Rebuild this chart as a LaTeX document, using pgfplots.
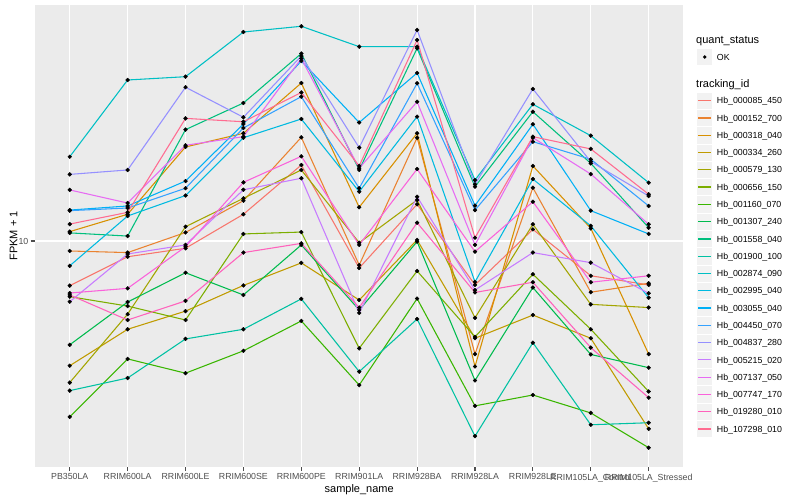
\documentclass[border=0pt]{standalone}
\usepackage{fontspec}
\setmainfont{Liberation Sans}
\usepackage{pgfplots}
\pgfplotsset{compat=1.18}
\usepackage{pgfplotstable}

% ggplot hue palette, 20 levels
\definecolor{c1}{HTML}{F8766D}
\definecolor{c2}{HTML}{EA8331}
\definecolor{c3}{HTML}{D89000}
\definecolor{c4}{HTML}{C09B00}
\definecolor{c5}{HTML}{A3A500}
\definecolor{c6}{HTML}{7CAE00}
\definecolor{c7}{HTML}{39B600}
\definecolor{c8}{HTML}{00BB4E}
\definecolor{c9}{HTML}{00BF7D}
\definecolor{c10}{HTML}{00C1A3}
\definecolor{c11}{HTML}{00BFC4}
\definecolor{c12}{HTML}{00BAE0}
\definecolor{c13}{HTML}{00B0F6}
\definecolor{c14}{HTML}{35A2FF}
\definecolor{c15}{HTML}{9590FF}
\definecolor{c16}{HTML}{C77CFF}
\definecolor{c17}{HTML}{E76BF3}
\definecolor{c18}{HTML}{FA62DB}
\definecolor{c19}{HTML}{FF62BC}
\definecolor{c20}{HTML}{FF6C91}
\definecolor{panelbg}{HTML}{EBEBEB}
\definecolor{keybg}{HTML}{F2F2F2}
\definecolor{axistext}{HTML}{4D4D4D}

% FPKM + 1 per sample (rows) and tracking id (columns s1..s20)
\pgfplotstableread{
x s1 s2 s3 s4 s5 s6 s7 s8 s9 s10 s11 s12 s13 s14 s15 s16 s17 s18 s19 s20
0 8.14 9.55 10.44 5.63 5.21 7.74 4.45 6.20 10.38 5.02 14.74 8.92 11.53 11.50 13.59 7.56 12.65 7.87 7.80 10.81
1 9.30 9.48 11.31 6.66 7.14 7.41 5.81 7.55 10.23 5.32 20.99 11.22 11.75 11.64 13.87 9.42 11.91 8.04 6.95 11.41
2 9.67 10.40 15.42 7.24 10.68 6.95 5.44 8.64 16.70 6.37 21.31 12.33 13.18 12.75 20.30 9.82 15.54 9.74 7.59 17.59
3 11.31 12.04 16.42 8.15 12.17 10.33 6.03 7.80 18.88 6.66 26.18 16.09 17.14 16.83 17.68 12.66 16.17 13.10 9.48 17.32
4 14.19 16.12 20.70 9.04 13.87 10.42 6.92 9.82 23.71 7.66 26.88 17.54 22.91 19.44 23.44 13.35 23.17 14.77 9.89 19.82
5 8.83 8.95 11.68 7.62 9.92 6.10 5.15 7.28 13.87 5.48 24.47 12.55 17.26 12.75 15.37 7.18 13.98 9.82 7.36 14.13
6 11.84 16.09 16.42 10.05 12.08 8.71 7.67 9.97 24.29 6.98 24.47 17.73 21.68 20.67 26.43 12.26 18.99 13.93 10.88 25.23
7 8.17 5.94 5.61 6.39 7.02 6.43 4.68 5.26 12.84 4.07 13.24 8.28 11.77 11.53 12.98 7.98 9.82 9.52 7.89 10.15
8 10.55 12.78 14.13 7.11 10.80 8.58 4.92 8.07 18.14 6.26 18.77 13.30 17.12 15.80 20.14 9.48 16.09 11.98 8.27 16.17
9 8.52 7.90 10.60 6.39 7.47 6.66 4.53 5.93 14.30 4.29 16.24 10.72 11.50 14.57 14.41 9.05 13.61 8.27 6.12 15.28
10 8.17 8.23 5.94 4.21 7.36 5.00 3.86 5.58 10.63 4.33 13.08 7.70 10.33 11.75 12.30 7.86 10.80 8.52 4.86 12.40
}\fpkm

\begin{document}
\begin{tikzpicture}[x=1pt,y=1pt]
\useasboundingbox (0,0) rectangle (800,500);
\begin{axis}[
    at={(35pt,33pt)}, anchor=south west,
    scale only axis, width=648.4pt, height=462pt,
    ymode=log,
    xmin=-0.6, xmax=10.6, ymin=3.532, ymax=29.65,
    xtick={0,...,10},
    xticklabels={PB350LA,RRIM600LA,RRIM600LE,RRIM600SE,RRIM600PE,RRIM901LA,RRIM928BA,RRIM928LA,RRIM928LE,RRIM105LA\_Control,RRIM105LA\_Stressed},
    ytick={10}, yticklabels={10},
    xminorticks=false, yminorticks=false,
    axis line style={draw=none},
    axis background/.style={fill=panelbg},
    grid=major, major grid style={white, line width=1.07pt},
    tick align=outside, major tick length=4.25pt,
    tick pos=left,
    tick style={color=axistext, line width=1.07pt},
    ticklabel style={font=\fontsize{8.8}{10}\selectfont, text=axistext},
    xticklabel style={inner sep=0pt, yshift=-2.2pt, anchor=north},
    yticklabel style={inner sep=0pt, xshift=-2.2pt, anchor=east},
    xlabel={sample\_name},
    xlabel style={at={(axis description cs:0.5,-0.0498)}, anchor=center, font=\fontsize{11}{13}\selectfont},
    ylabel={FPKM + 1},
    ylabel style={at={(axis description cs:-0.0332,0.5)}, anchor=center, font=\fontsize{11}{13}\selectfont},
]
\pgfplotsinvokeforeach{1,...,20}{
  \addplot[color=c#1, line width=1.07pt, mark=none] table[x=x, y=s#1]{\fpkm};
}
\pgfplotsinvokeforeach{1,...,20}{
  \addplot[only marks, mark=*, mark size=1.95pt, black] table[x=x, y=s#1]{\fpkm};
}
\end{axis}

% legend
\node[anchor=base west, inner sep=0pt, font=\fontsize{11}{13}\selectfont] at (696,456.1) {quant\_status};
\fill[keybg, draw=white, line width=0.7pt] (696.7,434.4) rectangle (712.7,451.6);
\fill[black] (704.7,443) circle (1.95);
\node[anchor=base west, inner sep=0pt, font=\fontsize{8.8}{10}\selectfont] at (716.7,439.85) {OK};
\node[anchor=base west, inner sep=0pt, font=\fontsize{11}{13}\selectfont] at (696,412.8) {tracking\_id};
\foreach \nm [count=\i] in {Hb\_000085\_450,Hb\_000152\_700,Hb\_000318\_040,Hb\_000334\_260,Hb\_000579\_130,Hb\_000656\_150,Hb\_001160\_070,Hb\_001307\_240,Hb\_001558\_040,Hb\_001900\_100,Hb\_002874\_090,Hb\_002995\_040,Hb\_003055\_040,Hb\_004450\_070,Hb\_004837\_280,Hb\_005215\_020,Hb\_007137\_050,Hb\_007747\_170,Hb\_019280\_010,Hb\_107298\_010}{
  \pgfmathsetmacro\yy{399.3-(\i-1)*17.28}
  \fill[keybg, draw=white, line width=0.7pt] (696.7,\yy-8.64) rectangle (712.7,\yy+8.64);
  \draw[c\i, line width=1.2pt] (698.3,\yy) -- (711.1,\yy);
  \node[anchor=base west, inner sep=0pt, font=\fontsize{8.8}{10}\selectfont] at (716.7,\yy-3.15) {\nm};
}
\end{tikzpicture}
\end{document}
